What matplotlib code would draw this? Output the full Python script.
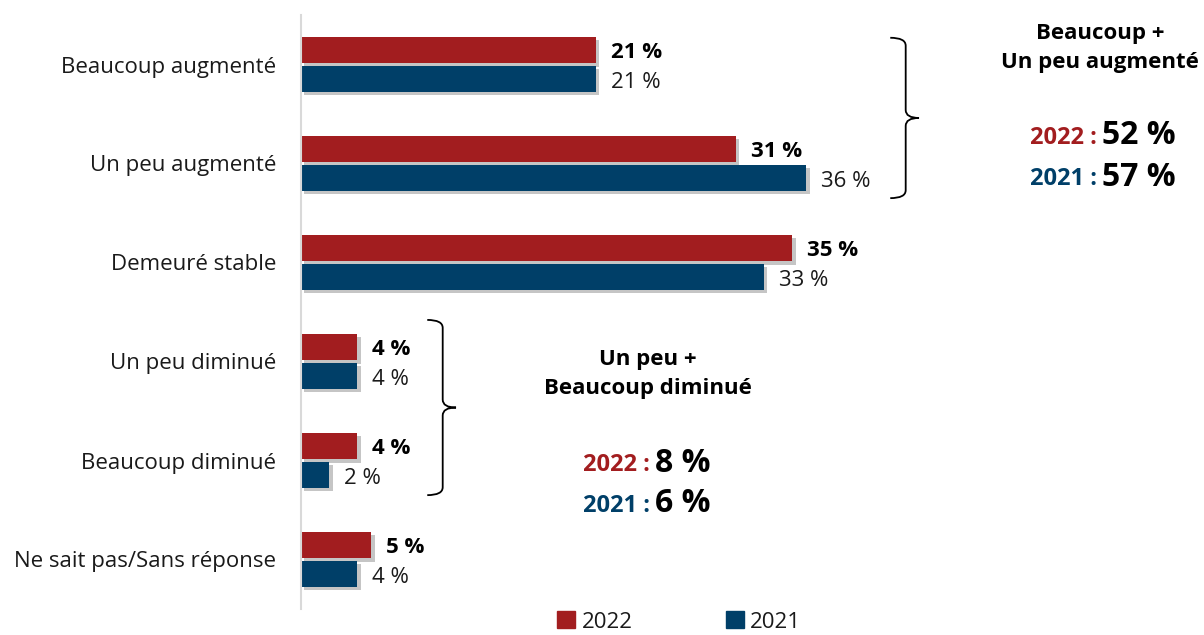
import numpy as np
import matplotlib
matplotlib.use("Agg")
import matplotlib.pyplot as plt
import matplotlib.patheffects as pe
from matplotlib.path import Path
from matplotlib.patches import PathPatch, Patch

plt.rcParams["font.family"] = ["Open Sans", "DejaVu Sans"]

# Data
categories = ["Beaucoup augmenté", "Un peu augmenté", "Demeuré stable",
              "Un peu diminué", "Beaucoup diminué", "Ne sait pas/Sans réponse"]
values_2022 = [21, 31, 35, 4, 4, 5]
values_2021 = [21, 36, 33, 4, 2, 4]
series_names = ["2022", "2021"]

up_total = {"2022": 52, "2021": 57}
down_total = {"2022": 8, "2021": 6}

RED = "#A21D1F"
BLUE = "#003F68"
TEXT = "#1a1a1a"

W, H = 1204, 635
fig = plt.figure(figsize=(W / 100, H / 100), dpi=100)

# axes placed so that 1 % ~ 14 px and each category row ~ 99 px
ax_left, ax_top, ax_bottom = 301, 15, 609
x_max = 64
ax = fig.add_axes([ax_left / W, 1 - ax_bottom / H, x_max * 14.03 / W, (ax_bottom - ax_top) / H])

y = np.arange(len(categories))
bar_h = 0.263
offset = 0.146

shadow = [pe.SimplePatchShadow(offset=(2.5, -2.5), shadow_rgbFace="#7f7f7f", alpha=0.45), pe.Normal()]

bars_22 = ax.barh(y - offset, values_2022, height=bar_h, color=RED)
bars_21 = ax.barh(y + offset, values_2021, height=bar_h, color=BLUE)
for b in list(bars_22) + list(bars_21):
    b.set_path_effects(shadow)

for b, v in zip(bars_22, values_2022):
    ax.annotate(f"{v} %", (b.get_width(), b.get_y() + b.get_height() / 2),
                xytext=(11, -1.5), textcoords="offset points", va="center", ha="left",
                fontsize=16, fontweight="bold", color="black")
for b, v in zip(bars_21, values_2021):
    ax.annotate(f"{v} %", (b.get_width(), b.get_y() + b.get_height() / 2),
                xytext=(11, -2.5), textcoords="offset points", va="center", ha="left",
                fontsize=16, color=TEXT)

ax.set_xlim(0, x_max)
ax.set_ylim(len(categories) - 0.5, -0.5)
ax.set_yticks(y)
ax.set_yticklabels(categories, fontsize=16, color=TEXT)
ax.tick_params(axis="y", length=0, pad=18)
ax.set_xticks([])
for s in ["top", "right", "bottom"]:
    ax.spines[s].set_visible(False)
ax.spines["left"].set_color("#d9d9d9")
ax.spines["left"].set_linewidth(1.5)


def brace(ax, x0, y_top, y_bot, hook=1.1, tip=0.95, curl=0.08):
    """Right-pointing curly brace in data coordinates (y axis inverted)."""
    y_mid = (y_top + y_bot) / 2
    verts = [
        (x0 - hook, y_top), (x0, y_top), (x0, y_top + curl),
        (x0, y_mid - curl),
        (x0, y_mid), (x0 + tip, y_mid),
        (x0, y_mid), (x0, y_mid + curl),
        (x0, y_bot - curl),
        (x0, y_bot), (x0 - hook, y_bot),
    ]
    codes = [Path.MOVETO, Path.CURVE3, Path.CURVE3,
             Path.LINETO,
             Path.CURVE3, Path.CURVE3,
             Path.CURVE3, Path.CURVE3,
             Path.LINETO,
             Path.CURVE3, Path.CURVE3]
    ax.add_patch(PathPatch(Path(verts, codes), fill=False, lw=1.3,
                           edgecolor="black", clip_on=False))


brace(ax, 43.1, -0.27, 1.35)
brace(ax, 10.1, 2.58, 4.35)


def px(x, y):
    return x / W, 1 - y / H


def summary(cx, y_title, title, split_x, y_lines, totals):
    fig.text(*px(cx, y_title), title, ha="center", va="center", fontsize=16,
             fontweight="bold", color="black", linespacing=1.5)
    for (name, color), yy in zip([("2022", RED), ("2021", BLUE)], y_lines):
        fig.text(*px(split_x - 2, yy + 2), f"{name} :", ha="right", va="center",
                 fontsize=17, fontweight="bold", color=color)
        fig.text(*px(split_x + 3, yy), f"{totals[name]} %", ha="left", va="center",
                 fontsize=23, fontweight="bold", color="black")


summary(1100, 48, "Beaucoup +\nUn peu augmenté", 1099, [136, 177], up_total)
summary(648, 374, "Un peu +\nBeaucoup diminué", 652, [463, 504], down_total)

handles = [Patch(color=RED), Patch(color=BLUE)]
fig.legend(handles, series_names, loc="center left", bbox_to_anchor=px(557, 622),
           ncol=2, frameon=False, fontsize=16, handlelength=0.8, handleheight=0.8,
           handletextpad=0.3, columnspacing=4.2, labelcolor=TEXT, borderpad=0,
           borderaxespad=0)

fig.savefig("out.png", dpi=100)
